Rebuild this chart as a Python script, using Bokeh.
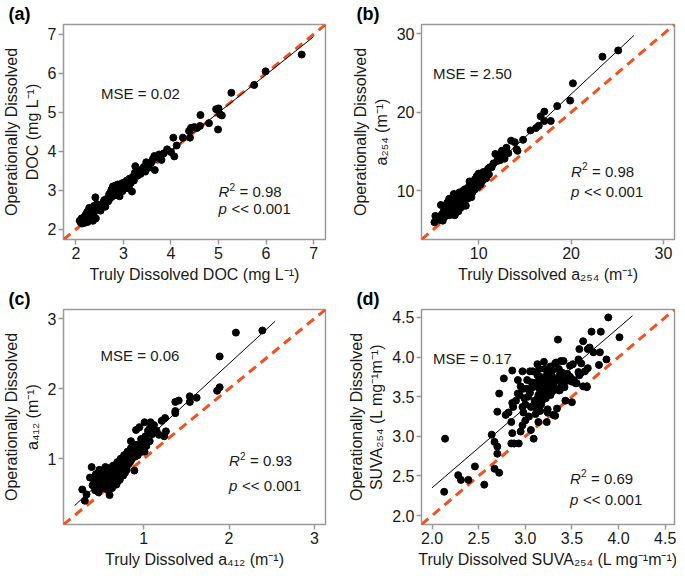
from bokeh.plotting import figure
from bokeh.layouts import column, row
from bokeh.models import Label, FixedTicker, NumeralTickFormatter, Range1d
from bokeh.embed import file_html
from bokeh.resources import INLINE

# ---------------- data ----------------
# (a) DOC
a_x = [2.08, 2.10, 2.12, 2.13, 2.15, 2.16, 2.18, 2.19, 2.20, 2.21, 2.22, 2.23, 2.24, 2.25, 2.26, 2.27,
       2.28, 2.29, 2.30, 2.31, 2.32, 2.33, 2.35, 2.36, 2.37, 2.38, 2.39, 2.40, 2.41, 2.42, 2.44, 2.45,
       2.47, 2.50, 2.52, 2.55, 2.58, 2.60, 2.62, 2.65, 2.68, 2.70, 2.72, 2.73, 2.75, 2.76, 2.78, 2.80,
       2.82, 2.83, 2.85, 2.86, 2.88, 2.90, 2.91, 2.92, 2.94, 2.95, 2.97, 2.98, 3.00, 3.02, 3.04, 3.05,
       3.07, 3.08, 3.10, 3.12, 3.13, 3.15, 3.17, 3.18, 3.20, 3.22, 3.24, 3.25, 3.27, 3.30, 3.33, 3.36,
       3.40, 3.43, 3.46, 3.48, 3.50, 3.53, 3.58, 3.62, 3.65, 3.66, 3.70, 3.75, 3.80, 3.85, 3.92, 4.00,
       4.05, 4.07, 4.12, 4.25, 4.38, 4.40, 4.42, 4.49, 4.55, 4.61, 4.62, 4.80, 4.95, 5.00, 5.03, 5.07,
       4.99, 5.27, 5.75, 5.99, 6.75]
a_y = [2.22, 2.18, 2.28, 2.15, 2.25, 2.20, 2.32, 2.17, 2.26, 2.38, 2.22, 2.30, 2.45, 2.19, 2.34, 2.28,
       2.55, 2.40, 2.24, 2.33, 2.50, 2.27, 2.42, 2.22, 2.38, 2.60, 2.30, 2.48, 2.82, 2.28, 2.65, 2.52,
       2.58, 2.55, 2.48, 2.62, 2.70, 2.75, 2.58, 2.78, 2.72, 2.90, 2.80, 2.95, 3.02, 2.84, 3.10, 2.92,
       3.00, 3.12, 2.88, 3.05, 3.15, 2.95, 3.08, 2.85, 3.12, 3.02, 3.18, 2.98, 3.10, 3.20, 3.05, 3.15,
       3.25, 3.12, 3.22, 3.05, 3.30, 3.18, 3.28, 2.97, 3.35, 3.25, 3.45, 3.62, 3.40, 3.38, 3.50, 3.42,
       3.55, 3.60, 3.48, 3.72, 3.65, 3.58, 3.70, 3.80, 3.88, 3.52, 3.85, 3.92, 3.78, 3.95, 4.05, 3.98,
       4.35, 3.87, 4.15, 4.35, 4.52, 4.35, 4.60, 4.62, 4.60, 4.65, 4.93, 4.72, 5.08, 5.10, 4.95, 4.92,
       4.56, 5.50, 5.70, 6.05, 6.48]
a_fit = [0.973, 0.127]          # slope, intercept
a_fit_x = [2.12, 7.0]

# (b) a254
b_x = [5.2, 5.3, 5.8, 5.9, 6.0, 6.2, 6.3, 6.5, 6.6, 6.7, 6.8, 6.9, 7.0, 7.0, 7.1, 7.2, 7.2, 7.3, 7.4, 7.4,
       7.5, 7.6, 7.6, 7.7, 7.8, 7.8, 7.9, 8.0, 8.0, 8.1, 8.2, 8.2, 8.3, 8.4, 8.5, 8.5, 8.6, 8.7, 8.8, 8.9,
       9.0, 9.0, 9.1, 9.2, 9.3, 9.4, 9.5, 9.6, 9.7, 9.8, 9.9, 10.0, 10.0, 10.1, 10.2, 10.3, 10.4, 10.5,
       10.6, 10.7, 10.9, 11.0, 11.2, 11.4, 11.6, 11.8, 12.0, 12.1, 12.3, 12.5, 12.7, 12.8, 13.0, 13.2,
       13.5, 13.9, 14.1, 14.2, 14.8, 15.6, 16.2, 16.5, 16.7, 17.1, 17.1, 17.8, 18.5, 19.9, 20.2, 23.4,
       25.1, 6.1, 6.4, 6.9, 7.1, 7.3, 7.5, 7.7, 7.9, 8.1, 8.3, 8.6, 8.8, 9.2, 9.4, 9.6, 10.2, 10.8, 11.1,
       6.7, 7.6, 8.4, 9.8, 5.6, 6.8]
b_y = [6.0, 6.8, 6.3, 8.2, 7.0, 7.4, 6.7, 7.2, 8.5, 7.8, 6.9, 8.1, 7.5, 8.7, 7.0, 8.0, 9.1, 7.6, 8.4, 6.9,
       8.9, 7.9, 9.4, 8.2, 7.4, 8.8, 9.8, 8.5, 9.2, 7.9, 9.6, 8.9, 10.0, 8.3, 9.3, 10.2, 8.1, 9.7, 9.0, 10.5,
       9.5, 11.2, 10.0, 10.6, 9.8, 11.0, 10.3, 11.5, 10.8, 11.2, 10.5, 11.8, 12.2, 11.0, 11.5, 12.0, 11.3, 12.4,
       11.8, 12.3, 12.2, 12.8, 13.0, 13.0, 13.5, 14.7, 13.8, 14.3, 13.9, 15.1, 14.5, 14.1, 15.5, 14.8,
       16.4, 16.2, 15.3, 15.1, 16.5, 17.7, 18.0, 18.3, 19.5, 20.1, 18.9, 18.9, 20.8, 21.5, 23.7, 27.1,
       27.9, 6.2, 7.9, 7.3, 8.3, 9.6, 7.2, 9.0, 8.6, 9.0, 8.7, 9.5, 10.0, 9.2, 10.4, 10.2, 10.8, 11.6, 12.1,
       7.0, 8.5, 9.9, 11.9, 6.4, 9.0]
b_fit = [1.10, 0.32]
b_fit_x = [5.5, 26.8]

# (c) a412
c_x = [0.28, 0.31, 0.33, 0.37, 0.39, 0.40, 0.42, 0.43, 0.44, 0.45, 0.46, 0.47, 0.48, 0.49, 0.50, 0.50,
       0.51, 0.52, 0.53, 0.54, 0.55, 0.55, 0.56, 0.57, 0.58, 0.58, 0.59, 0.60, 0.60, 0.61, 0.62, 0.63,
       0.64, 0.65, 0.66, 0.67, 0.68, 0.68, 0.69, 0.70, 0.71, 0.72, 0.73, 0.74, 0.75, 0.76, 0.77, 0.78,
       0.79, 0.80, 0.81, 0.82, 0.83, 0.84, 0.85, 0.85, 0.86, 0.87, 0.88, 0.89, 0.90, 0.91, 0.92, 0.93,
       0.95, 0.96, 0.97, 0.98, 1.00, 1.01, 1.01, 1.02, 1.04, 1.05, 1.07, 1.07, 1.08, 1.10, 1.12, 1.15,
       1.18, 1.21, 1.24, 1.25, 1.26, 1.37, 1.37, 1.37, 1.41, 1.54, 1.54, 1.62, 1.86, 1.89, 1.89, 2.08,
       2.39, 0.45, 0.52, 0.56, 0.62, 0.66, 0.70, 0.74, 0.78, 0.82, 0.63, 0.58, 0.48, 0.53, 0.57, 0.75,
       0.80, 0.84, 0.88, 0.93, 0.97, 1.03]
c_y = [0.56, 0.40, 0.49, 0.73, 0.88, 0.62, 0.68, 0.55, 0.78, 0.65, 0.72, 0.52, 0.84, 0.69, 0.60, 0.76,
       0.66, 0.82, 0.58, 0.73, 0.88, 0.64, 0.70, 0.79, 0.55, 0.67, 0.85, 0.48, 0.74, 0.62, 0.80, 0.69,
       0.90, 0.75, 0.65, 0.84, 0.63, 0.72, 0.95, 0.78, 0.87, 0.70, 1.00, 0.82, 0.93, 0.76, 1.05, 0.88,
       0.97, 0.84, 1.10, 0.92, 1.02, 0.95, 1.15, 1.25, 0.99, 1.08, 1.20, 0.83, 1.03, 1.41, 1.12, 1.20,
       1.45, 1.18, 1.28, 1.10, 1.22, 1.52, 1.10, 1.32, 1.25, 1.40, 1.43, 1.25, 1.52, 1.35, 1.48, 1.40,
       1.34, 1.54, 1.32, 1.58, 1.39, 1.68, 1.65, 1.81, 1.83, 1.89, 1.81, 1.87, 1.97, 2.02, 2.46, 2.80,
       2.83, 0.58, 0.68, 0.61, 0.73, 0.80, 0.68, 0.89, 0.80, 1.00, 0.58, 0.76, 0.62, 0.77, 0.87, 0.85,
       0.92, 1.05, 1.12, 1.05, 1.15, 1.18]
c_fit = [1.12, 0.117]
c_fit_x = [0.19, 2.54]

# (d) SUVA254
d_x = [2.13, 2.14, 2.28, 2.31, 2.39, 2.46, 2.56, 2.64, 2.67, 2.67, 2.70, 2.70, 2.70, 2.72, 2.72, 2.77,
       2.79, 2.85, 2.85, 2.86, 2.86, 2.86, 2.87, 2.88, 2.92, 2.92, 2.93, 2.94, 2.95, 2.97, 2.97, 2.97,
       2.99, 3.02, 3.05, 3.06, 3.06, 3.09, 3.13, 3.13, 3.14, 3.20, 3.23, 3.23, 3.27, 3.30, 3.30, 3.33,
       3.34, 3.35, 3.37, 3.41, 3.41, 3.43, 3.46, 3.50, 3.51, 3.55, 3.57, 3.58, 3.58, 3.62, 3.64, 3.66,
       3.67, 3.67, 3.69, 3.71, 3.73, 3.79, 3.80, 3.81, 3.87, 3.89, 4.01,
       3.05, 3.08, 3.10, 3.12, 3.14, 3.15, 3.16, 3.17, 3.18, 3.19, 3.20, 3.21, 3.22, 3.24, 3.25, 3.26,
       3.28, 3.29, 3.29, 3.31, 3.32, 3.33, 3.35, 3.36, 3.37, 3.38, 3.39, 3.40, 3.42, 3.45, 3.45, 3.48,
       3.52, 3.54, 3.57, 3.59, 3.60, 3.62, 3.66, 3.48, 3.36, 3.24, 3.32, 3.29, 3.50, 3.16, 3.11, 3.04,
       3.00, 2.98, 3.10, 3.12, 3.18, 3.08, 3.02, 2.95, 3.00, 3.14, 3.20, 3.27, 3.15, 3.22, 3.19, 3.13,
       3.26, 3.24, 3.07, 3.03, 2.90, 2.82, 2.98]
d_y = [2.30, 2.97, 2.51, 2.45, 2.45, 2.62, 2.39, 3.02, 2.93, 2.59, 2.78, 2.87, 3.31, 2.54, 3.54, 3.73,
       3.27, 2.91, 3.18, 3.04, 3.42, 3.83, 3.37, 2.91, 3.54, 3.71, 2.91, 3.52, 3.06, 3.14, 3.37, 3.82,
       3.48, 3.71, 3.82, 3.08, 3.37, 2.97, 3.91, 3.77, 3.18, 3.94, 3.77, 3.18, 3.88, 3.74, 3.27, 3.93,
       3.35, 4.22, 3.78, 3.95, 3.71, 3.45, 3.73, 3.69, 3.91, 3.67, 3.97, 3.77, 4.10, 4.20, 3.82, 3.63,
       4.10, 3.86, 4.12, 4.32, 4.06, 3.90, 4.06, 4.32, 3.97, 4.50, 4.25,
       3.55, 3.62, 3.45, 3.68, 3.52, 3.60, 3.75, 3.40, 3.58, 3.66, 3.50, 3.85, 3.62, 3.70, 3.55, 3.80,
       3.64, 3.83, 3.57, 3.68, 3.92, 3.60, 3.72, 3.85, 3.58, 3.95, 3.66, 3.80, 3.62, 3.79, 3.70, 3.75,
       3.71, 3.67, 3.81, 3.79, 3.92, 3.63, 3.62, 3.89, 3.58, 3.34, 3.26, 3.57, 3.43, 3.32, 3.28, 3.25,
       3.20, 3.30, 3.40, 3.35, 3.45, 3.82, 3.60, 3.63, 3.40, 3.62, 3.70, 3.52, 3.85, 3.48, 3.57, 3.47,
       3.62, 3.30, 3.68, 3.50, 3.45, 3.30, 3.60]
d_fit = [1.01, 0.33]
d_fit_x = [2.0, 4.15]

panels = [
    dict(tag="(a)", x=a_x, y=a_y, fit=a_fit, fit_x=a_fit_x, rng=(1.74, 7.25), ticks=[2, 3, 4, 5, 6, 7],
         fmt=None, xlabel="Truly Dissolved DOC (mg L\u207b\u00b9)",
         ylabel="Operationally Dissolved\nDOC (mg L\u207b\u00b9)",
         mse="MSE = 0.02", mse_xy=(2.53, 5.48), r2="0.98", r2_xy=(5.0, 2.96), p_xy=(5.0, 2.53)),
    dict(tag="(b)", x=b_x, y=b_y, fit=b_fit, fit_x=b_fit_x, rng=(3.8, 31.2), ticks=[10, 20, 30],
         fmt=None, xlabel="Truly Dissolved a\u2082\u2085\u2084 (m\u207b\u00b9)",
         ylabel="Operationally Dissolved\na\u2082\u2085\u2084 (m\u207b\u00b9)",
         mse="MSE = 2.50", mse_xy=(5.05, 24.97), r2="0.98", r2_xy=(20.0, 12.5), p_xy=(20.0, 9.87)),
    dict(tag="(c)", x=c_x, y=c_y, fit=c_fit, fit_x=c_fit_x, rng=(0.06, 3.13), ticks=[1, 2, 3],
         fmt=None, xlabel="Truly Dissolved a\u2084\u2081\u2082 (m\u207b\u00b9)",
         ylabel="Operationally Dissolved\na\u2084\u2081\u2082 (m\u207b\u00b9)",
         mse="MSE = 0.06", mse_xy=(0.495, 2.48), r2="0.93", r2_xy=(2.0, 0.97), p_xy=(2.0, 0.61)),
    dict(tag="(d)", x=d_x, y=d_y, fit=d_fit, fit_x=d_fit_x, rng=(1.887, 4.6), ticks=[2.0, 2.5, 3.0, 3.5, 4.0, 4.5],
         fmt="0.0", xlabel="Truly Dissolved SUVA\u2082\u2085\u2084 (L mg\u207b\u00b9m\u207b\u00b9)",
         ylabel="Operationally Dissolved\nSUVA\u2082\u2085\u2084 (L mg\u207b\u00b9m\u207b\u00b9)",
         mse="MSE = 0.17", mse_xy=(2.01, 3.98), r2="0.69", r2_xy=(3.48, 2.47), p_xy=(3.48, 2.20)),
]

FONT = "Liberation Sans"
GRAY = "#9a9a9a"
ORANGE = "#f4511e"
TXT = "#1a1a1a"


def make(pd_, left_col, top_row):
    lo, hi = pd_["rng"]
    fw = 262 if left_col else 253
    p = figure(frame_width=fw, frame_height=215, output_backend="svg", toolbar_location=None,
               x_range=Range1d(lo, hi), y_range=Range1d(lo, hi),
               min_border_left=50 if left_col else 80,
               min_border_right=16 if left_col else 2,
               min_border_top=22 if top_row else 24,
               min_border_bottom=46 if top_row else 40)
    p.grid.visible = False
    p.outline_line_color = GRAY
    p.outline_line_width = 1.5
    p.background_fill_color = "white"
    p.border_fill_color = "white"
    # panel tag as a left-shifted title
    p.title.text = pd_["tag"]
    p.title.align = "left"
    p.title.offset = -55 if left_col else -65
    p.title.standoff = 2
    p.title.text_font = FONT
    p.title.text_font_size = "18px"
    p.title.text_font_style = "bold"
    p.title.text_color = "black"
    for ax in (p.xaxis[0], p.yaxis[0]):
        ax.ticker = FixedTicker(ticks=pd_["ticks"])
        if pd_["fmt"]:
            ax.formatter = NumeralTickFormatter(format=pd_["fmt"])
        ax.axis_line_color = None
        ax.major_tick_line_color = GRAY
        ax.major_tick_line_width = 1.5
        ax.major_tick_out = 5
        ax.major_tick_in = 0
        ax.minor_tick_line_color = None
        ax.major_label_text_font = FONT
        ax.major_label_text_font_size = "16px"
        ax.major_label_text_color = TXT
        ax.major_label_standoff = 2
        ax.axis_label_text_font = FONT
        ax.axis_label_text_font_size = "16px"
        ax.axis_label_text_font_style = "normal"
        ax.axis_label_text_color = TXT
        ax.axis_label_standoff = 4
    p.xaxis.axis_label = pd_["xlabel"]
    p.yaxis.axis_label = pd_["ylabel"]

    # 1:1 line
    p.line([lo, hi], [lo, hi], line_color=ORANGE, line_width=3, line_dash="9 6")
    # fit line
    fx = pd_["fit_x"]
    m, b = pd_["fit"]
    p.line(fx, [m * v + b for v in fx], line_color="black", line_width=1)
    # points
    p.scatter(pd_["x"], pd_["y"], size=7, color="black")

    def lab(x, y, text, style="normal", size="15px", xo=0, yo=0):
        p.add_layout(Label(x=x, y=y, text=text, text_font=FONT, text_font_size=size,
                           text_font_style=style, text_color=TXT, text_baseline="middle",
                           text_align="left", x_offset=xo, y_offset=yo))

    mx, my = pd_["mse_xy"]
    lab(mx, my, pd_["mse"])
    rx, ry = pd_["r2_xy"]
    lab(rx, ry, "R", style="italic")
    lab(rx, ry, "2", size="10px", xo=11, yo=5)
    lab(rx, ry, "= " + pd_["r2"], xo=21)
    px_, py_ = pd_["p_xy"]
    lab(px_, py_, "p", style="italic")
    lab(px_, py_, "<< 0.001", xo=13)
    return p


figs = [make(panels[0], True, True), make(panels[1], False, True),
        make(panels[2], True, False), make(panels[3], False, False)]
layout = column(row(figs[0], figs[1]), row(figs[2], figs[3]))

open("out.html", "w").write(file_html(layout, INLINE))
